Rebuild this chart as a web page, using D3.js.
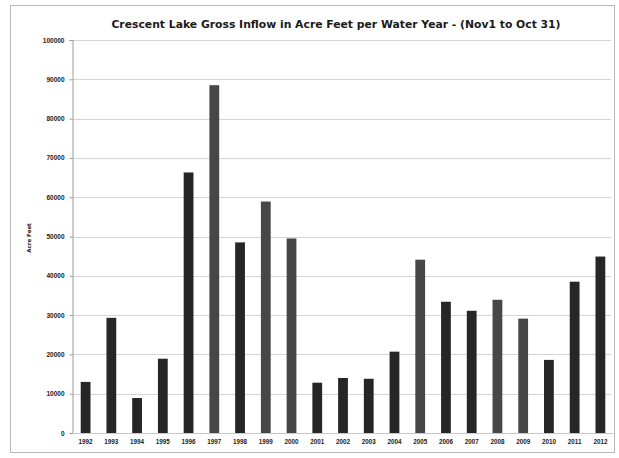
<!DOCTYPE html>
<html>
<head>
<meta charset="utf-8">
<script src="https://cdn.jsdelivr.net/npm/d3@7"></script>
<style>
  html, body { margin: 0; padding: 0; background: #fff; }
  svg { display: block; font-family: "DejaVu Sans", "Liberation Sans", sans-serif; }
</style>
</head>
<body>
<svg id="chart" width="619" height="458"></svg>
<script>
// Water years (Nov 1 – Oct 31) and gross inflow in acre feet
const years = ["1992","1993","1994","1995","1996","1997","1998","1999","2000","2001","2002",
               "2003","2004","2005","2006","2007","2008","2009","2010","2011","2012"];
const inflow = [13000, 29300, 8900, 18900, 66300, 88500, 48500, 58900, 49500, 12800, 14000,
                13800, 20700, 44100, 33400, 31100, 33900, 29100, 18600, 38500, 44900];
const yTicks = [0, 10000, 20000, 30000, 40000, 50000, 60000, 70000, 80000, 90000, 100000];
const title = "Crescent Lake Gross Inflow in Acre Feet per Water Year - (Nov1 to Oct 31)";
const yTitle = "Acre Feet";

// Years printed in a slightly lighter shade
const lighter = new Set(["1997", "1999", "2000", "2005", "2008", "2009"]);

const svg = d3.select("#chart");
const margin = { top: 40, right: 6, bottom: 25, left: 73 };
const W = 619, H = 458;

// Outer chart frame
svg.append("rect")
  .attr("x", 10.5).attr("y", 5.5)
  .attr("width", 604).attr("height", 447)
  .attr("fill", "none").attr("stroke", "#b8b8b8").attr("stroke-width", 1);

const x = d3.scaleBand()
  .domain(years)
  .range([margin.left, W - margin.right])
  .paddingInner(0.62).paddingOuter(0.3);

const y = d3.scaleLinear()
  .domain([0, 100000])
  .range([H - margin.bottom, margin.top]);

// Horizontal gridlines
svg.append("g")
  .selectAll("line")
  .data(yTicks.filter(d => d > 0))
  .join("line")
  .attr("x1", margin.left).attr("x2", W - margin.right - 2)
  .attr("y1", d => Math.round(y(d)) + 0.5).attr("y2", d => Math.round(y(d)) + 0.5)
  .attr("stroke", "#d4d4d4").attr("stroke-width", 1);

// Bars
svg.append("g")
  .selectAll("rect")
  .data(years.map((yr, i) => ({ yr, v: inflow[i] })))
  .join("rect")
  .attr("x", d => x(d.yr))
  .attr("width", x.bandwidth())
  .attr("y", d => y(d.v))
  .attr("height", d => y(0) - y(d.v))
  .attr("fill", d => lighter.has(d.yr) ? "#474747" : "#262626");

// Y axis
const yAxis = svg.append("g")
  .attr("transform", `translate(${margin.left - 0.5},0)`)
  .call(d3.axisLeft(y).tickValues(yTicks).tickSize(3).tickPadding(5).tickFormat(d3.format("d")));
yAxis.select(".domain").attr("stroke", "#9a9a9a");
yAxis.selectAll(".tick line").attr("stroke", "#9a9a9a");
yAxis.selectAll("text")
  .attr("font-size", 6.5).attr("font-weight", "bold").attr("fill", "#222");

// X axis
const xAxis = svg.append("g")
  .attr("transform", `translate(0,${y(0)})`)
  .call(d3.axisBottom(x).tickSize(0).tickPadding(7));
xAxis.select(".domain").attr("stroke", "#c8c8c8");
xAxis.selectAll("text")
  .attr("font-size", 6.3).attr("font-weight", "bold").attr("fill", "#222");

// Title
svg.append("text")
  .attr("x", 336).attr("y", 28)
  .attr("text-anchor", "middle")
  .attr("font-size", 10.8).attr("font-weight", "bold").attr("fill", "#1a1a1a")
  .text(title);

// Y axis title
svg.append("text")
  .attr("transform", `translate(31,238) rotate(-90)`)
  .attr("text-anchor", "middle")
  .attr("font-size", 5.5).attr("font-weight", "bold").attr("fill", "#222")
  .text(yTitle);
</script>
</body>
</html>
